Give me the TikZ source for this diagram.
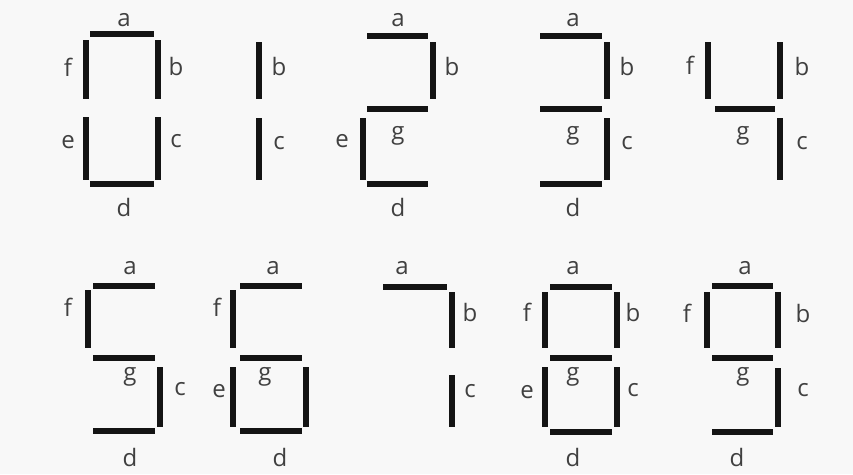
\documentclass[tikz,border=0pt]{standalone}
\usepackage{fontspec}
\setmainfont{Open Sans}
\definecolor{bgc}{HTML}{F8F8F8}
\definecolor{segc}{HTML}{141414}
\definecolor{labc}{HTML}{404040}
\tikzset{
  seg/.style={draw=segc, line width=6pt, line cap=butt},
  lab/.style={text=labc, font=\fontsize{24}{24}\selectfont, inner sep=0pt}
}
\begin{document}
\begin{tikzpicture}[x=1pt,y=-1pt]
\fill[bgc] (0,0) rectangle (853,474);
\useasboundingbox (0,0) rectangle (853,474);
% ---------- Row 1 ----------
% digit 0
\draw[seg] (90,34) -- (154,34);
\draw[seg] (86,40) -- (86,99);
\draw[seg] (158,40) -- (158,99);
\draw[seg] (86,117) -- (86,180);
\draw[seg] (158,117) -- (158,180);
\draw[seg] (90,184) -- (154,184);
\node[lab] (l0a) at (124,20) {a};
\node[lab] (l0f) at (68,67) {f};
\node[lab] (l0b) at (176,66) {b};
\node[lab] (l0e) at (68,142) {e};
\node[lab] (l0c) at (176,141) {c};
\node[lab] (l0d) at (124,207) {d};
% digit 1
\draw[seg] (259,42) -- (259,99);
\draw[seg] (259,118) -- (259,180);
\node[lab] (l1b) at (279,66) {b};
\node[lab] (l1c) at (279,143) {c};
% digit 2
\draw[seg] (367,36) -- (428,36);
\draw[seg] (433,42) -- (433,99);
\draw[seg] (367,109) -- (428,109);
\draw[seg] (363,118) -- (363,180);
\draw[seg] (367,184) -- (428,184);
\node[lab] (l2a) at (398,20) {a};
\node[lab] (l2b) at (452,66) {b};
\node[lab] (l2e) at (342,141) {e};
\node[lab] (l2g) at (398,136) {g};
\node[lab] (l2d) at (398,207) {d};
% digit 3
\draw[seg] (540,36) -- (602,36);
\draw[seg] (607,42) -- (607,99);
\draw[seg] (540,109) -- (602,109);
\draw[seg] (607,118) -- (607,180);
\draw[seg] (540,184) -- (602,184);
\node[lab] (l3a) at (573,20) {a};
\node[lab] (l3b) at (627,66) {b};
\node[lab] (l3g) at (573,136) {g};
\node[lab] (l3c) at (627,143) {c};
\node[lab] (l3d) at (573,207) {d};
% digit 4
\draw[seg] (708,42) -- (708,99);
\draw[seg] (780,42) -- (780,99);
\draw[seg] (715,109) -- (775,109);
\draw[seg] (780,118) -- (780,180);
\node[lab] (l4f) at (690,65) {f};
\node[lab] (l4b) at (802,66) {b};
\node[lab] (l4g) at (743,136) {g};
\node[lab] (l4c) at (802,143) {c};
% ---------- Row 2 ----------
% digit 5
\draw[seg] (93,286) -- (155,286);
\draw[seg] (88,290) -- (88,348);
\draw[seg] (93,358) -- (155,358);
\draw[seg] (160,367) -- (160,427);
\draw[seg] (93,431) -- (155,431);
\node[lab] (l5a) at (130,268) {a};
\node[lab] (l5f) at (68,307) {f};
\node[lab] (l5g) at (130,377) {g};
\node[lab] (l5c) at (180,389) {c};
\node[lab] (l5d) at (130,457) {d};
% digit 6
\draw[seg] (240,286) -- (302,286);
\draw[seg] (233,290) -- (233,348);
\draw[seg] (240,358) -- (302,358);
\draw[seg] (233,367) -- (233,427);
\draw[seg] (306,367) -- (306,427);
\draw[seg] (240,431) -- (302,431);
\node[lab] (l6a) at (273,268) {a};
\node[lab] (l6f) at (217,307) {f};
\node[lab] (l6e) at (219,391) {e};
\node[lab] (l6g) at (265,377) {g};
\node[lab] (l6d) at (280,457) {d};
% digit 7
\draw[seg] (383,287) -- (447,287);
\draw[seg] (452,292) -- (452,348);
\draw[seg] (452,375) -- (452,427);
\node[lab] (l7a) at (402,268) {a};
\node[lab] (l7b) at (470,312) {b};
\node[lab] (l7c) at (470,391) {c};
% digit 8
\draw[seg] (550,287) -- (612,287);
\draw[seg] (545,292) -- (545,348);
\draw[seg] (617,292) -- (617,348);
\draw[seg] (550,358) -- (612,358);
\draw[seg] (545,367) -- (545,427);
\draw[seg] (617,367) -- (617,427);
\draw[seg] (550,432) -- (612,432);
\node[lab] (l8a) at (573,268) {a};
\node[lab] (l8f) at (527,312) {f};
\node[lab] (l8b) at (633,312) {b};
\node[lab] (l8e) at (527,392) {e};
\node[lab] (l8g) at (573,377) {g};
\node[lab] (l8c) at (633,390) {c};
\node[lab] (l8d) at (573,457) {d};
% digit 9
\draw[seg] (712,286) -- (773,286);
\draw[seg] (707,292) -- (707,348);
\draw[seg] (778,292) -- (778,348);
\draw[seg] (712,358) -- (773,358);
\draw[seg] (778,368) -- (778,427);
\draw[seg] (712,432) -- (773,432);
\node[lab] (l9a) at (745,268) {a};
\node[lab] (l9f) at (687,313) {f};
\node[lab] (l9b) at (803,313) {b};
\node[lab] (l9g) at (743,377) {g};
\node[lab] (l9c) at (803,390) {c};
\node[lab] (l9d) at (737,457) {d};
\end{tikzpicture}
\end{document}
